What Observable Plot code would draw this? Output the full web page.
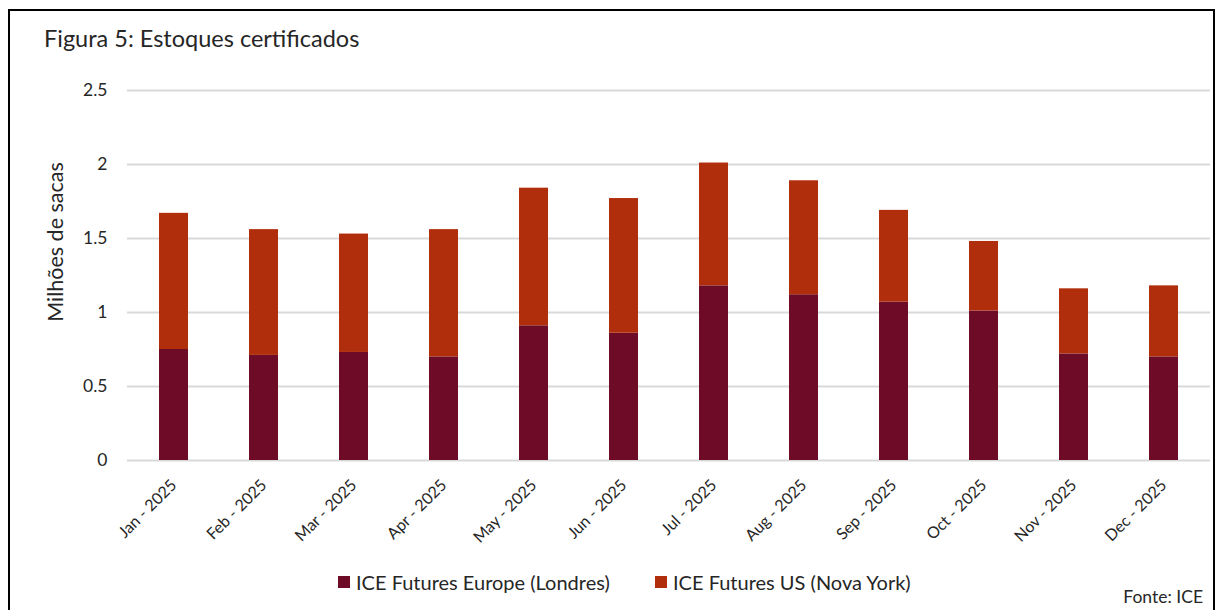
<!DOCTYPE html>
<html>
<head>
<meta charset="utf-8">
<script src="https://cdn.jsdelivr.net/npm/d3@7"></script>
<script src="https://cdn.jsdelivr.net/npm/@observablehq/plot@0.6"></script>
<style>
  html, body { margin: 0; padding: 0; background: #fff; overflow: hidden; }
  body { width: 1223px; height: 610px; position: relative; font-family: Lato, "Noto Sans", sans-serif; color: #262626; }
  #border { position: absolute; left: 8px; top: 9px; width: 1207px; height: 620px; border: 2px solid #000; box-sizing: border-box; }
  #title { position: absolute; left: 44px; top: 27px; font-size: 23.5px; line-height: 1; white-space: nowrap; }
  #chart { position: absolute; left: 0; top: 0; }
  #ylabel { position: absolute; left: 56px; top: 242px; font-size: 21.5px; line-height: 1; white-space: nowrap; transform: translate(-50%, -50%) rotate(-90deg); }
  #legend { position: absolute; top: 572px; left: 0; width: 1223px; font-size: 20px; line-height: 1; white-space: nowrap; }
  .item { position: absolute; top: 0; display: flex; align-items: center; }
  .sw { width: 12px; height: 12px; display: inline-block; margin-right: 6px; }
  #caption { position: absolute; right: 20px; top: 588px; font-size: 17.5px; line-height: 1; white-space: nowrap; }
</style>
</head>
<body>
<div id="border"></div>
<div id="title">Figura 5: Estoques certificados</div>
<div id="chart"></div>
<div id="ylabel">Milhões de sacas</div>
<div id="legend"></div>
<div id="caption">Fonte: ICE</div>
<script>
const months = ["Jan - 2025","Feb - 2025","Mar - 2025","Apr - 2025","May - 2025","Jun - 2025","Jul - 2025","Aug - 2025","Sep - 2025","Oct - 2025","Nov - 2025","Dec - 2025"];
const seriesNames = ["ICE Futures Europe (Londres)", "ICE Futures US (Nova York)"];
const europe = [0.75, 0.71, 0.73, 0.70, 0.91, 0.86, 1.18, 1.12, 1.07, 1.01, 0.72, 0.70];
const us = [0.92, 0.85, 0.80, 0.86, 0.93, 0.91, 0.83, 0.77, 0.62, 0.47, 0.44, 0.48];
const colors = ["#6e0b26", "#b02e0c"];
const yTicks = [0, 0.5, 1, 1.5, 2, 2.5];

const rows = [];
months.forEach((m, i) => rows.push({month: m, series: seriesNames[0], value: europe[i]}));
months.forEach((m, i) => rows.push({month: m, series: seriesNames[1], value: us[i]}));

const plot = Plot.plot({
  width: 1223,
  height: 540,
  marginTop: 90,
  marginBottom: 80,
  marginLeft: 127,
  marginRight: 13,
  style: { fontFamily: "Lato, 'Noto Sans', sans-serif", color: "#262626", background: "transparent", overflow: "visible" },
  x: { domain: months, paddingInner: 0.68, paddingOuter: 0.34, label: null },
  y: { domain: [0, 2.5], ticks: yTicks, label: null },
  color: { domain: seriesNames, range: colors },
  marks: [
    Plot.gridY(yTicks, { stroke: "#d9d9d9", strokeOpacity: 1, strokeWidth: 2 }),
    Plot.barY(rows, { x: "month", y: "value", fill: "series", order: seriesNames }),
    Plot.axisY(yTicks, { tickSize: 0, tickPadding: 20, fontSize: 17.5, tickFormat: d => String(d), label: null }),
    Plot.axisX({ tickSize: 0, tickPadding: 22, tickRotate: -45, fontSize: 16, label: null })
  ]
});
document.getElementById("chart").appendChild(plot);

const legend = document.getElementById("legend");
const lx = [338, 655];
seriesNames.forEach((s, i) => {
  const d = document.createElement("div");
  d.className = "item";
  d.style.left = lx[i] + "px";
  d.innerHTML = `<span class="sw" style="background:${colors[i]}"></span><span>${s}</span>`;
  legend.appendChild(d);
});
</script>
</body>
</html>
